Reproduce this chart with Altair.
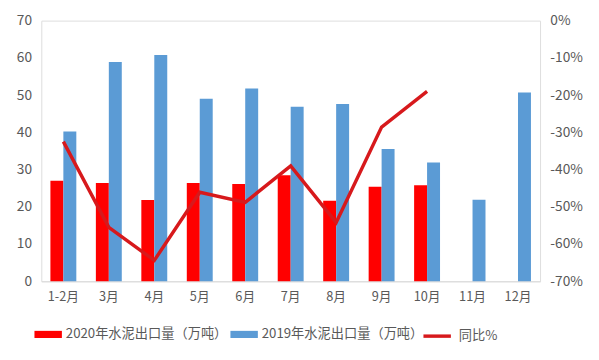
import altair as alt
import pandas as pd

months = ["1-2月", "3月", "4月", "5月", "6月", "7月", "8月", "9月", "10月", "11月", "12月"]
exp_2020 = [27.0, 26.4, 21.8, 26.4, 26.1, 28.5, 21.6, 25.4, 25.8, None, None]
exp_2019 = [40.2, 58.9, 60.8, 49.0, 51.8, 46.9, 47.6, 35.5, 31.9, 21.9, 50.7]
yoy = [-32.5, -55.5, -64.4, -46.1, -48.8, -39.0, -54.2, -28.6, -19.0, None, None]

s2020 = "2020年水泥出口量（万吨）"
s2019 = "2019年水泥出口量（万吨）"
s_yoy = "同比%"

rows = []
for m, a, b in zip(months, exp_2020, exp_2019):
    if a is not None:
        rows.append({"month": m, "series": s2020, "order": 0, "value": a})
    if b is not None:
        rows.append({"month": m, "series": s2019, "order": 1, "value": b})
bars_df = pd.DataFrame(rows)
line_df = pd.DataFrame({"month": months, "yoy": yoy, "label": s_yoy}).dropna()

FONT = "Noto Sans CJK SC"
GRAY = "#595959"

x_enc = alt.X("month:N", sort=months, title=None,
              scale=alt.Scale(paddingInner=0.43, paddingOuter=0.2),
              axis=alt.Axis(labelAngle=0, ticks=False, domainColor="#d9d9d9",
                            labelPadding=10, labelFont=FONT, labelFontSize=13,
                            labelColor=GRAY))

bars = alt.Chart(bars_df).mark_bar().encode(
    x=x_enc,
    xOffset=alt.XOffset("series:N", sort=[s2020, s2019],
                        scale=alt.Scale(paddingInner=0, paddingOuter=0)),
    y=alt.Y("value:Q", title=None,
            scale=alt.Scale(domain=[0, 70]),
            axis=alt.Axis(values=list(range(0, 71, 10)), grid=False, domain=False,
                          ticks=False, labelPadding=10, labelFont=FONT,
                          labelFontSize=14, labelColor=GRAY)),
    fill=alt.Fill("series:N",
                  scale=alt.Scale(domain=[s2020, s2019], range=["#ff0000", "#5b9bd5"]),
                  legend=alt.Legend(title=None, orient="none", direction="horizontal",
                                    legendX=-7, legendY=306,
                                    symbolType="M-1,-0.26H1V0.26H-1Z", symbolSize=784,
                                    symbolStrokeWidth=0, symbolOpacity=1,
                                    labelFont=FONT, labelFontSize=13.5, labelColor=GRAY,
                                    labelLimit=400, labelOffset=4, columnPadding=3)),
)

line = alt.Chart(line_df).mark_line(strokeWidth=3.5).encode(
    x=alt.X("month:N", sort=months),
    y=alt.Y("yoy:Q", title=None,
            scale=alt.Scale(domain=[-70, 0]),
            axis=alt.Axis(orient="right", values=list(range(-70, 1, 10)), grid=False,
                          domain=False, ticks=False, labelPadding=10,
                          labelExpr="datum.value + '%'", labelFont=FONT,
                          labelFontSize=14, labelColor=GRAY)),
    stroke=alt.Stroke("label:N",
                      scale=alt.Scale(domain=[s_yoy], range=["#d7191c"]),
                      legend=alt.Legend(title=None, orient="none",
                                        legendX=388, legendY=306,
                                        symbolType="stroke", symbolSize=784,
                                        symbolStrokeWidth=3.5, labelLimit=400,
                                        labelFont=FONT, labelFontSize=13.5,
                                        labelColor=GRAY, labelOffset=6)),
)

chart = alt.layer(bars, line).resolve_scale(y="independent").properties(
    width=509, height=266,
    padding={"left": 8, "top": 2, "right": 8, "bottom": 40},
).configure_view(stroke=None).configure(background="white")

chart.save("out.html", embed_options={"renderer": "svg", "actions": False})
